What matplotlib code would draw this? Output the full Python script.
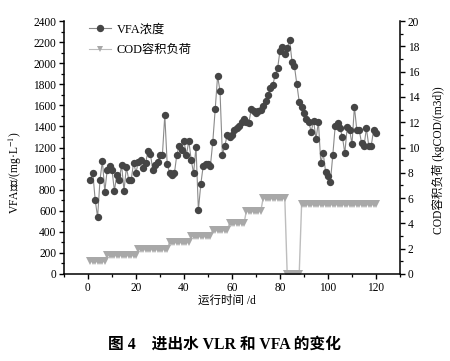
import matplotlib
matplotlib.use("Agg")
import matplotlib.pyplot as plt
from matplotlib.ticker import MultipleLocator
from matplotlib.lines import Line2D

plt.rcParams['font.family'] = ['Liberation Serif', 'Noto Sans CJK SC']
plt.rcParams['mathtext.fontset'] = 'stix'

# Days of operation
days = list(range(1, 121))

# VFA concentration (mg/L)
vfa = [892, 961, 702, 538, 892, 1075, 781, 987, 1025, 987,
       790, 939, 892, 1034, 790, 1012, 892, 892, 1056, 961,
       1066, 1082, 1003, 1050, 1170, 1139, 987, 1034, 1060, 1129,
       1129, 1508, 1044, 961, 939, 955, 1129, 1214, 1176, 1262,
       1129, 1262, 1082, 955, 1208, 607, 851, 1025, 1044, 1044,
       1025, 1255, 1562, 1879, 1736, 1129, 1214, 1319, 1303, 1319,
       1366, 1382, 1404, 1445, 1468, 1445, 1430, 1562, 1550, 1525,
       1550, 1556, 1590, 1640, 1700, 1762, 1793, 1888, 1951, 2119,
       2157, 2087, 2141, 2220, 2015, 1974, 1803, 1635, 1582, 1530,
       1468, 1440, 1350, 1455, 1278, 1445, 1056, 1145, 971, 930,
       876, 1129, 1404, 1436, 1382, 1303, 1145, 1392, 1366, 1233,
       1587, 1366, 1366, 1240, 1214, 1382, 1214, 1214, 1366, 1340]

# COD volumetric loading (kgCOD/(m3 d))
cod = [1.0, 1.0, 1.0, 1.0, 1.0, 1.0, 1.0,
       1.5, 1.5, 1.5, 1.5, 1.5, 1.5, 1.5, 1.5, 1.5, 1.5, 1.5, 1.5, 1.5,
       2.0, 2.0, 2.0, 2.0, 2.0, 2.0, 2.0, 2.0, 2.0, 2.0, 2.0, 2.0, 2.0,
       2.5, 2.5, 2.5, 2.5, 2.5, 2.5, 2.5, 2.5, 2.5,
       3.0, 3.0, 3.0, 3.0, 3.0, 3.0, 3.0, 3.0, 3.0,
       3.5, 3.5, 3.5, 3.5, 3.5, 3.5, 3.5,
       4.0, 4.0, 4.0, 4.0, 4.0, 4.0, 4.0,
       5.0, 5.0, 5.0, 5.0, 5.0, 5.0, 5.0,
       6.0, 6.0, 6.0, 6.0, 6.0, 6.0, 6.0, 6.0, 6.0, 6.0,
       0.0, 0.0, 0.0, 0.0, 0.0, 0.0,
       5.5, 5.5, 5.5, 5.5, 5.5, 5.5, 5.5, 5.5, 5.5, 5.5,
       5.5, 5.5, 5.5, 5.5, 5.5, 5.5, 5.5, 5.5, 5.5, 5.5,
       5.5, 5.5, 5.5, 5.5, 5.5, 5.5, 5.5, 5.5, 5.5, 5.5,
       5.5, 5.5]

vfa_label = 'VFA浓度'
cod_label = 'COD容积负荷'

fig = plt.figure(figsize=(4.5, 3.61), dpi=100)
ax = fig.add_axes([0.1422, 0.241, 0.7467, 0.7008])
ax2 = ax.twinx()

c_vfa = '#454545'
c_vfa_line = '#8a8a8a'
c_cod = '#a8a8a8'
c_cod_line = '#bdbdbd'

ax2.plot(days, cod, color=c_cod_line, lw=1.0, marker='v', ms=5.4,
         mfc=c_cod, mec=c_cod, mew=0, zorder=2)
ax.plot(days, vfa, color=c_vfa_line, lw=0.8, marker='o', ms=5.3,
        mfc=c_vfa, mec=c_vfa, mew=0, zorder=3)
ax.set_zorder(ax2.get_zorder() + 1)
ax.patch.set_visible(False)

ax.set_xlim(-10, 130)
ax.set_ylim(0, 2400)
ax2.set_ylim(0, 20)

ax.xaxis.set_major_locator(MultipleLocator(20))
ax.xaxis.set_minor_locator(MultipleLocator(10))
ax.yaxis.set_major_locator(MultipleLocator(200))
ax.yaxis.set_minor_locator(MultipleLocator(100))
ax2.yaxis.set_major_locator(MultipleLocator(2))
ax2.yaxis.set_minor_locator(MultipleLocator(1))
ax.set_xticks([0, 20, 40, 60, 80, 100, 120])

for a in (ax, ax2):
    a.spines['top'].set_visible(False)
    for s in a.spines.values():
        s.set_linewidth(1.1)
    a.tick_params(which='major', direction='out', length=3.5, width=1.0,
                  labelsize=8.3, pad=2)
    a.tick_params(which='minor', direction='out', length=2.0, width=0.9)
ax.spines['right'].set_visible(False)
ax2.spines['left'].set_visible(False)
ax2.spines['bottom'].set_visible(False)

ax.set_ylabel('VFA浓度/(mg·L$^{-1}$)', fontsize=8.3)
ax.yaxis.set_label_coords(-0.118, 0.40)
ax2.set_ylabel('COD容积负荷 (kgCOD/(m3d))', fontsize=8.3, rotation=90)
ax2.yaxis.set_label_coords(1.095, 0.45)

fig.text(227 / 450, 1 - 301 / 361, '运行时间 /d', fontsize=8.3,
         ha='center', va='center')
fig.text(225 / 450, 1 - 345 / 361, '图 4    进出水 VLR 和 VFA 的变化',
         fontsize=11.3, fontweight='bold', ha='center', va='center')

handles = [Line2D([0], [0], color=c_vfa_line, lw=0.8, marker='o', ms=5.3,
                  mfc=c_vfa, mec=c_vfa, mew=0),
           Line2D([0], [0], color=c_cod_line, lw=0.8, marker='v', ms=5.0,
                  mfc=c_cod, mec=c_cod, mew=0)]
ax.legend(handles, [vfa_label, cod_label], loc='upper left',
          bbox_to_anchor=(0.06, 1.01), frameon=False, fontsize=8.8,
          handlelength=1.8, handletextpad=0.45, labelspacing=0.7,
          borderaxespad=0)

fig.savefig('out.png', dpi=100)
